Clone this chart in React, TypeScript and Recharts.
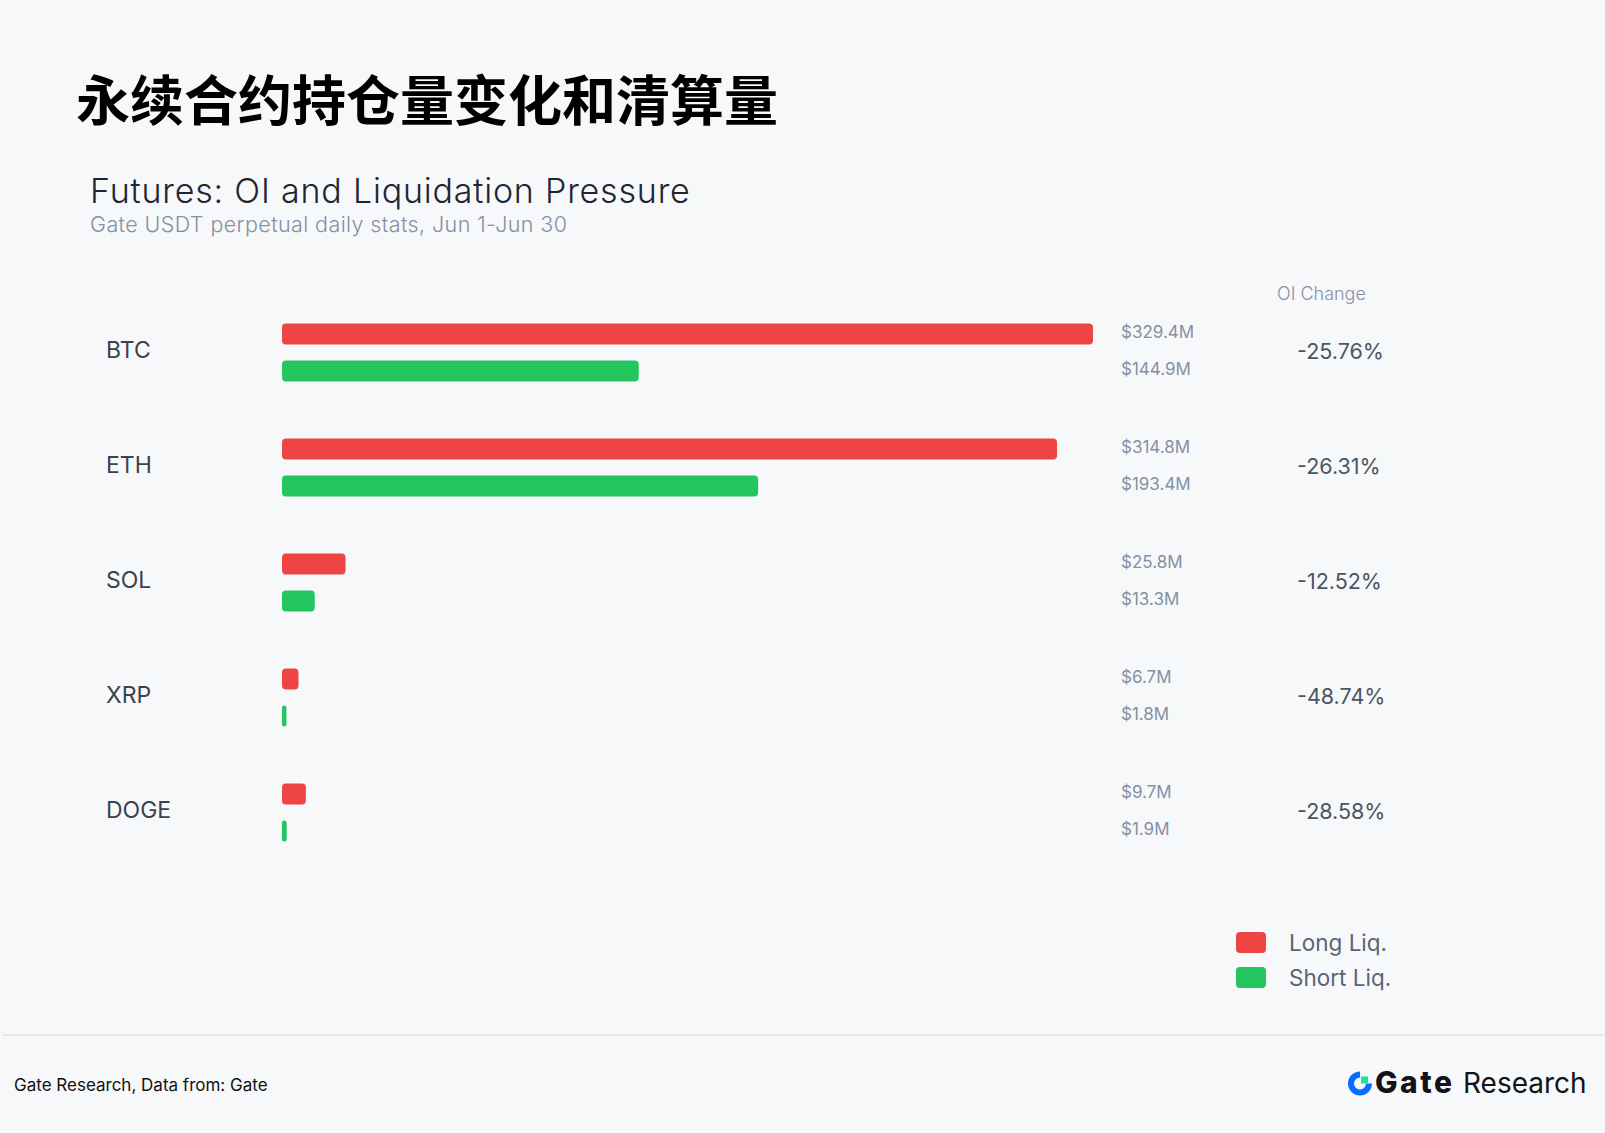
import React from 'react'
import { BarChart, Bar, XAxis, YAxis, LabelList, Legend } from 'recharts'

const coins = ['BTC', 'ETH', 'SOL', 'XRP', 'DOGE']
const longLiq = [329.4, 314.8, 25.8, 6.7, 9.7]
const shortLiq = [144.9, 193.4, 13.3, 1.8, 1.9]
const oiChange = [-25.76, -26.31, -12.52, -48.74, -28.58]

const data = coins.map((coin, i) => ({
  coin,
  long: longLiq[i],
  short: shortLiq[i],
  oi: `${oiChange[i].toFixed(2)}%`,
}))

const W = 1605
const H = 1133
const PLOT_LEFT = 282
const PLOT_RIGHT = 1093
const PLOT_TOP = 294.5
const PLOT_BOTTOM = 869.5
const RIGHT_AXIS_W = 300

const RED = '#ef4444'
const GREEN = '#22c55e'
const FONT = 'Inter, "Noto Sans", sans-serif'

function CoinTick({ x, y, payload }: any) {
  return (
    <text x={x - 176} y={y + 6} fontSize={23} fill="#3b4250">
      {payload.value}
    </text>
  )
}

function OiTick({ x, y, payload }: any) {
  return (
    <text x={x + 204} y={y + 7} fontSize={21.5} fill="#4b5563">
      {payload.value}
    </text>
  )
}

function ValueLabel({ y, height, value }: any) {
  return (
    <text x={PLOT_RIGHT + 28} y={y + height / 2 + 4} fontSize={17} fill="#8590a3">
      {'$' + Number(value).toFixed(1) + 'M'}
    </text>
  )
}

function LegendBox({ payload }: any) {
  return (
    <div>
      {(payload || []).map((p: any) => (
        <div key={p.value} style={{ display: 'flex', alignItems: 'center', height: 35 }}>
          <span
            style={{
              width: 30,
              height: 21,
              borderRadius: 4,
              backgroundColor: p.color,
              display: 'inline-block',
            }}
          />
          <span style={{ marginLeft: 23, fontSize: 22.5, color: '#5b6475' }}>{p.value}</span>
        </div>
      ))}
    </div>
  )
}

function GateLogo() {
  return (
    <g>
      <path
        d="M1360 1074.5 A9 9 0 1 0 1369 1083.5"
        fill="none"
        stroke="#0a6cff"
        strokeWidth={6}
      />
      <rect x={1361} y={1076.5} width={7} height={7} fill="#17e6a1" />
      <text x={1375} y={1093} fontSize={30} fontWeight={800} letterSpacing={2.5} fill="#111318">
        Gate
      </text>
      <text x={1463} y={1093} fontSize={28} fill="#111318">
        Research
      </text>
    </g>
  )
}

export default function App() {
  return (
    <div
      style={{
        position: 'relative',
        width: W,
        height: H,
        background: '#f7f8fa',
        fontFamily: FONT,
        overflow: 'hidden',
      }}
    >
      <style>{'body{margin:0}'}</style>
      <svg width={W} height={H} style={{ position: 'absolute', left: 0, top: 0 }}>
        <text
          x={76}
          y={121}
          fontSize={54}
          fontWeight={700}
          fontFamily='"Noto Sans CJK SC", sans-serif'
          fill="#000"
        >
          永续合约持仓量变化和清算量
        </text>
        <text x={90} y={203} fontSize={34} fontWeight={300} letterSpacing={0.8} fill="#1f2533">
          Futures: OI and Liquidation Pressure
        </text>
        <text x={90} y={232} fontSize={21.5} fontWeight={300} letterSpacing={0.4} fill="#8590a3">
          Gate USDT perpetual daily stats, Jun 1-Jun 30
        </text>
        <text x={1277} y={300} fontSize={18} fontWeight={300} fill="#8590a3">
          OI Change
        </text>
        <line x1={2} x2={W} y1={1035} y2={1035} stroke="#e3e5e9" strokeWidth={1.5} />
        <text x={14} y={1091} fontSize={17} fill="#111">
          Gate Research, Data from: Gate
        </text>
        <GateLogo />
      </svg>
      <div style={{ position: 'absolute', left: 0, top: 0 }}>
        <BarChart
          width={W}
          height={H}
          data={data}
          layout="vertical"
          barSize={21}
          barGap={16}
          margin={{
            top: PLOT_TOP,
            bottom: H - PLOT_BOTTOM,
            left: 0,
            right: W - PLOT_RIGHT - RIGHT_AXIS_W,
          }}
        >
          <XAxis type="number" domain={[0, 329.4]} hide />
          <YAxis
            type="category"
            dataKey="coin"
            width={PLOT_LEFT}
            axisLine={false}
            tickLine={false}
            tickSize={0}
            tickMargin={0}
            tick={<CoinTick />}
          />
          <YAxis
            yAxisId="oi"
            orientation="right"
            type="category"
            dataKey="oi"
            width={RIGHT_AXIS_W}
            axisLine={false}
            tickLine={false}
            tickSize={0}
            tickMargin={0}
            tick={<OiTick />}
          />
          <Legend
            layout="vertical"
            align="center"
            verticalAlign="middle"
            wrapperStyle={{ left: 1236, top: 924.5, width: 'auto' }}
            content={<LegendBox />}
          />
          <Bar dataKey="long" name="Long Liq." fill={RED} radius={4} isAnimationActive={false}>
            <LabelList dataKey="long" content={<ValueLabel />} />
          </Bar>
          <Bar dataKey="short" name="Short Liq." fill={GREEN} radius={4} isAnimationActive={false}>
            <LabelList dataKey="short" content={<ValueLabel />} />
          </Bar>
        </BarChart>
      </div>
    </div>
  )
}
